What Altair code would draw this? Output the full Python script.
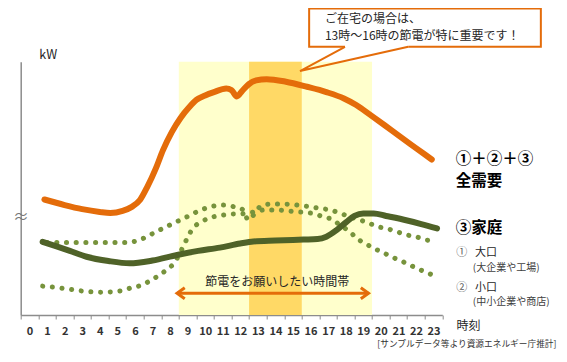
import json
import altair as alt
import pandas as pd

# ---------------- data ----------------
total_hours = [0.85, 2.0, 3.0, 4.0, 4.6, 5.3, 5.8, 6.3, 6.7, 7.2, 7.6, 8.1, 8.6, 9.1, 9.5,
               10.0, 10.5, 11.2, 11.5, 11.8, 12.1, 12.5, 12.9, 13.5, 14.6, 15.8, 16.9, 17.9,
               18.6, 19.4, 20.2, 21.1, 22.0, 22.9]
total_kw = [45.6, 43.4, 41.8, 40.7, 40.3, 41.1, 42.6, 45.5, 50.5, 58.0, 65.1, 72.2, 77.8, 82.1,
            84.9, 86.7, 88.0, 89.4, 88.8, 86.3, 88.4, 91.2, 92.6, 93.1, 92.1, 90.1, 88.0, 85.5,
            82.9, 79.0, 75.0, 70.4, 65.9, 61.4]

home_hours = [0.75, 1.5, 2.3, 3.25, 4.5, 5.7, 7.0, 8.4, 9.6, 10.84, 12.0, 12.74, 14.0, 15.6,
              16.4, 16.9, 17.5, 18.05, 18.5, 19.0, 19.6, 20.3, 21.5, 22.3, 23.2]
home_kw = [28.9, 27.2, 25.3, 23.0, 21.3, 20.4, 21.5, 23.7, 25.3, 26.6, 28.2, 29.0, 29.4, 29.8,
           30.0, 30.9, 33.6, 36.8, 39.1, 40.1, 40.1, 39.1, 37.3, 35.9, 34.2]

large_hours = [1.0, 3.0, 5.5, 6.4, 6.86, 7.8, 8.95, 9.88, 11.0, 11.6, 12.17, 12.45, 12.83, 13.2,
               13.8, 14.35, 14.9, 15.4, 15.96, 16.5, 17.1, 17.7, 18.24, 18.7, 19.27, 19.83,
               20.4, 20.9, 21.5, 22.05, 22.6, 23.2]
large_kw = [28.6, 28.6, 28.6, 30.0, 31.6, 34.9, 38.7, 41.8, 43.4, 42.8, 41.5, 37.5, 40.1, 43.2,
            43.8, 43.8, 43.7, 43.2, 42.8, 42.1, 41.5, 40.1, 38.8, 37.8, 36.4, 34.9, 34.0, 32.9,
            31.6, 30.8, 29.6, 29.3]

small_hours = [0.75, 1.95, 2.97, 4.1, 5.25, 5.82, 6.4, 6.86, 7.33, 7.8, 8.22, 8.75, 9.02, 9.3,
               9.8, 10.27, 10.84, 11.4, 12.0, 12.8, 13.4, 13.97, 14.54, 15.1, 15.68, 16.25,
               16.7, 17.3, 17.67, 18.24, 18.62, 19.1, 19.61, 20.14, 20.6, 21.18, 21.66, 22.19,
               22.7, 23.27]
small_kw = [11.4, 10.5, 9.5, 9.0, 9.6, 10.8, 11.8, 13.5, 15.5, 17.8, 20.4, 27.0, 30.9, 34.2,
            36.8, 38.4, 39.2, 39.8, 39.9, 40.7, 41.5, 41.5, 41.2, 40.8, 40.5, 39.9, 38.8, 37.5,
            35.5, 32.9, 30.3, 28.3, 26.3, 24.6, 23.0, 21.3, 19.7, 18.0, 16.5, 14.9]

hour_labels = [str(i) for i in range(24)]
tick_edges = [i - 0.5 for i in range(25)]

band_start = [8.5, 12.5]
band_end = [19.5, 15.5]
band_colors = ["#FFFFCC", "#FFD966"]

ORANGE = "#E46C0A"
DKGREEN = "#4F6228"
LTGREEN = "#77933C"
FONT = "Noto Sans CJK JP"

xs = alt.Scale(domain=[-0.5, 23.5], nice=False, zero=False)
ys = alt.Scale(domain=[0, 100], nice=False, zero=False)

label_expr = json.dumps(hour_labels + [""]) + "[round(datum.value + 0.5)]"
x_axis = alt.Axis(values=tick_edges, labelExpr=label_expr, labelOffset=8.8, labelFlush=False,
                  labelOverlap=False, grid=False, title=None, tickSize=4,
                  domainColor="#8c8c8c", tickColor="#8c8c8c", domainWidth=1.5,
                  labelColor="#333333", labelFontSize=11, labelFont=FONT, labelPadding=6,
                  labelFontWeight="bold")
y_axis = alt.Axis(labels=False, ticks=False, grid=False, title=None,
                  domainColor="#8c8c8c", domainWidth=1.5)

X = lambda f: alt.X(f, type="quantitative", scale=xs, axis=x_axis)
Y = lambda f: alt.Y(f, type="quantitative", scale=ys, axis=y_axis)

# ---------------- background bands ----------------
bands_df = pd.DataFrame({"x1": band_start, "x2": band_end, "c": band_colors,
                         "y1": [0, 0], "y2": [100, 100]})
bands = alt.Chart(bands_df).mark_rect().encode(
    x=X("x1"), x2="x2", y=Y("y1"), y2="y2", fill=alt.Fill("c:N", scale=None))

def line_df(h, v):
    return pd.DataFrame({"h": h, "v": v})

total_line = alt.Chart(line_df(total_hours, total_kw)).mark_line(
    color=ORANGE, strokeWidth=6, interpolate="monotone", strokeCap="round").encode(
    x=X("h"), y=Y("v"))
large_line = alt.Chart(line_df(large_hours, large_kw)).mark_line(
    color=LTGREEN, strokeWidth=5, strokeDash=[0.1, 9.6], strokeCap="round",
    interpolate="monotone").encode(x=X("h"), y=Y("v"))
small_line = alt.Chart(line_df(small_hours, small_kw)).mark_line(
    color=LTGREEN, strokeWidth=5, strokeDash=[0.1, 9.6], strokeCap="round",
    interpolate="monotone").encode(x=X("h"), y=Y("v"))
home_line = alt.Chart(line_df(home_hours, home_kw)).mark_line(
    color=DKGREEN, strokeWidth=6, interpolate="monotone", strokeCap="round").encode(
    x=X("h"), y=Y("v"))

# ---------------- arrow "節電をお願いしたい時間帯" ----------------
arrow_from, arrow_to, arrow_level = 8.4, 19.3, 8.6
arrow_df = pd.DataFrame({"a": [arrow_from], "b": [arrow_to], "v": [arrow_level]})
arrow = alt.Chart(arrow_df).mark_rule(color=ORANGE, strokeWidth=3).encode(
    x=X("a"), x2="b", y=Y("v"))
head_l = alt.Chart(pd.DataFrame({"h": [arrow_from], "v": [arrow_level]})).mark_point(
    shape="M1.4,-1L0,0L1.4,1", size=121, filled=False, stroke=ORANGE, strokeWidth=3,
    opacity=1).encode(x=X("h"), y=Y("v"))
head_r = alt.Chart(pd.DataFrame({"h": [arrow_to], "v": [arrow_level]})).mark_point(
    shape="M-1.4,-1L0,0L-1.4,1", size=121, filled=False, stroke=ORANGE, strokeWidth=3,
    opacity=1).encode(x=X("h"), y=Y("v"))

# ---------------- callout ----------------
box_x = [15.92, 29.11]
box_y = [105.9, 121.0]
box = alt.Chart(pd.DataFrame({"a": [box_x[0]], "b": [box_x[1]], "c": [box_y[0]], "d": [box_y[1]]})).mark_rect(
    fill="white", stroke=ORANGE, strokeWidth=2).encode(x=X("a"), x2="b", y=Y("c"), y2="d")
ptr_h = [17.96, 15.40, 21.56]
ptr_v = [105.9, 96.3, 105.9]
cover = alt.Chart(pd.DataFrame({"a": [ptr_h[0]], "b": [ptr_h[2]], "v": [box_y[0]]})).mark_rule(
    color="white", strokeWidth=3.5).encode(x=X("a"), x2="b", y=Y("v"))
pointer = alt.Chart(pd.DataFrame({"h": ptr_h, "v": ptr_v, "o": [0, 1, 2]})).mark_line(
    color=ORANGE, strokeWidth=2).encode(x=X("h"), y=Y("v"), order="o:Q")

def text_layer(texts, hs, vs, size, color="#262626", weight="normal", align="left"):
    d = pd.DataFrame({"t": texts, "h": hs, "v": vs})
    return alt.Chart(d).mark_text(font=FONT, fontSize=size, color=color, fontWeight=weight,
                                  align=align, baseline="middle").encode(
        x=X("h"), y=Y("v"), text="t:N")

callout_text = text_layer(["ご在宅の場合は、", "13時～16時の節電が特に重要です！"],
                          [16.82, 16.82], [116.9, 110.1], 12)
arrow_text = text_layer(["節電をお願いしたい時間帯"], [14.1], [13.2], 12, align="center")
legend_big = text_layer(["①＋②＋③", "全需要", "③家庭"], [24.27, 24.27, 24.27],
                        [61.5, 53.0, 34.2], 15.5, color="#000000", weight="bold")
legend_num = text_layer(["①", "②"], [24.3, 24.3], [24.5, 10.8], 11, color="#595959")
legend_small = text_layer(["大口", "小口"], [25.36, 25.36], [24.5, 10.8], 11, color="#262626")
legend_paren = text_layer(["(大企業や工場)", "(中小企業や商店)"], [25.24, 25.24], [18.6, 5.1],
                          10, color="#404040")
axis_title = text_layer(["時刻"], [24.31], [-4.3], 12, color="#262626")
source = text_layer(["[サンプルデータ等より資源エネルギー庁推計]"], [30.0], [-11.4], 8.7,
                    color="#333333", align="right")
kw_label = text_layer(["kW"], [1.07], [102.6], 12.5, color="#262626", align="center")
squiggle = text_layer(["≈"], [-0.48], [38.7], 16, color="#777777", align="center")

chart = alt.layer(
    bands, large_line, small_line, home_line, total_line,
    arrow, head_l, head_r,
    box, cover, pointer, callout_text, arrow_text,
    legend_big, legend_num, legend_small, legend_paren, axis_title, source, kw_label, squiggle,
).properties(
    width=421.6, height=253.3,
    autosize=alt.AutoSizeParams(type="none"),
    padding={"left": 12.7, "top": 53.7, "right": 116.7, "bottom": 39},
).configure_view(stroke=None)

chart.save("out.html", embed_options={"renderer": "svg", "actions": False})
